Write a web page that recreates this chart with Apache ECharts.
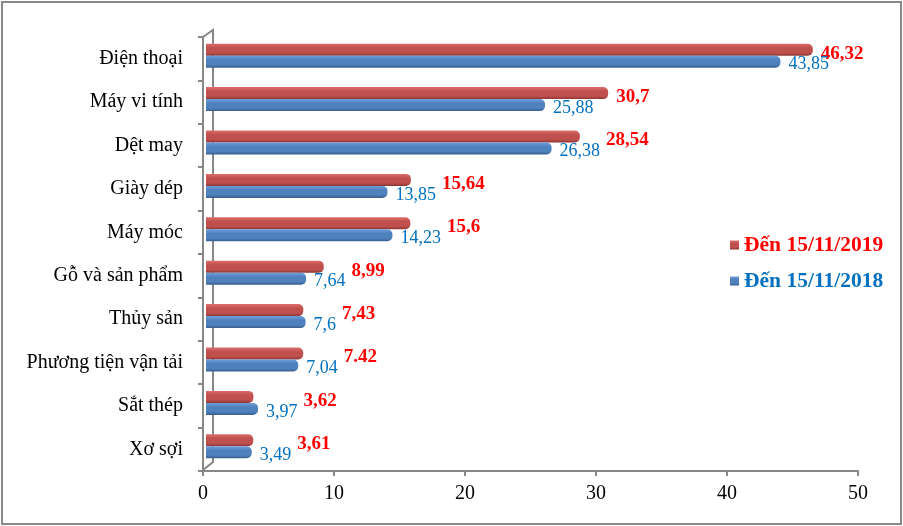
<!DOCTYPE html>
<html><head><meta charset="utf-8">
<script src="https://cdn.jsdelivr.net/npm/echarts@6/dist/echarts.min.js"></script>
<style>html,body{margin:0;padding:0;background:#fff}#c{width:903px;height:526px}</style>
</head><body><div id="c"></div>
<script>
const categories = ['Điện thoại','Máy vi tính','Dệt may','Giày dép','Máy móc','Gỗ và sản phẩm','Thủy sản','Phương tiện vận tải','Sắt thép','Xơ sợi'];
const values2019 = [46.32, 30.7, 28.54, 15.64, 15.6, 8.99, 7.43, 7.42, 3.62, 3.61];
const values2018 = [43.85, 25.88, 26.38, 13.85, 14.23, 7.64, 7.6, 7.04, 3.97, 3.49];
const labels2019 = ['46,32','30,7','28,54','15,64','15,6','8,99','7,43','7.42','3,62','3,61'];
const labels2018 = ['43,85','25,88','26,38','13,85','14,23','7,64','7,6','7,04','3,97','3,49'];
const xTicks = [0, 10, 20, 30, 40, 50];
const seriesNames = ['Đến 15/11/2019', 'Đến 15/11/2018'];

const FONT = '"Liberation Serif","Times New Roman",serif';
const RED_TXT = '#ff0000', BLUE_TXT = '#0070c0';
const AX = '#878787';
const BLUE_FS = 18;

function grad(c1, c2, c3) {
  return new echarts.graphic.LinearGradient(0, 0, 0, 1, [
    {offset: 0, color: c1}, {offset: 0.35, color: c2}, {offset: 0.75, color: c2}, {offset: 1, color: c3}
  ]);
}

const chart = echarts.init(document.getElementById('c'), null, {renderer: 'canvas'});

const option = {
  animation: false,
  backgroundColor: '#fff',
  grid: [
    {left: 203, right: 45, top: 37, bottom: 55},
    {left: 206, right: 42, top: 34, bottom: 58}
  ],
  xAxis: [
    {gridIndex: 0, type: 'value', min: xTicks[0], max: xTicks[xTicks.length-1], interval: 10,
     axisLine: {show: true, lineStyle: {color: AX, width: 2}},
     axisTick: {show: true, length: 5, lineStyle: {color: AX, width: 2}},
     axisLabel: {fontFamily: FONT, fontSize: 20, color: '#000', margin: 13},
     splitLine: {show: false}},
    {gridIndex: 1, type: 'value', min: xTicks[0], max: xTicks[xTicks.length-1], show: false}
  ],
  yAxis: [
    {gridIndex: 0, type: 'category', data: categories, inverse: true,
     axisLine: {show: true, lineStyle: {color: AX, width: 2}},
     axisTick: {show: true, length: 5, lineStyle: {color: AX, width: 2}},
     axisLabel: {fontFamily: FONT, fontSize: 20, color: '#000', margin: 20}},
    {gridIndex: 1, type: 'category', data: categories, inverse: true, show: false}
  ],
  legend: {
    orient: 'vertical', left: 730, top: 234, itemGap: 14, padding: 0,
    itemWidth: 9, itemHeight: 9, icon: 'rect',
    data: [
      {name: seriesNames[0], textStyle: {color: RED_TXT}},
      {name: seriesNames[1], textStyle: {color: BLUE_TXT}}
    ],
    textStyle: {fontFamily: FONT, fontSize: 21.5, fontWeight: 'bold'}
  },
  graphic: [
    {type: 'rect', shape: {x: 2, y: 2, width: 899, height: 522}, style: {fill: 'none', stroke: '#898989', lineWidth: 2}, silent: true},
    {type: 'polyline', shape: {points: [[203, 37], [213, 30], [213, 462], [203, 470]]}, style: {fill: 'none', stroke: AX, lineWidth: 2}, silent: true, z: 0}
  ],
  series: [
    {name: seriesNames[0], type: 'bar', xAxisIndex: 1, yAxisIndex: 1,
     data: values2019, barWidth: 12, barGap: '0%', z: 3,
     itemStyle: {color: grad('#dc6d6a', '#c0504d', '#8a3735'), borderRadius: [0, 5, 5, 0]},
     label: {show: true, position: 'right', distance: 8, offset: [0, 4],
             formatter: p => labels2019[p.dataIndex],
             fontFamily: FONT, fontSize: 19, fontWeight: 'bold', color: RED_TXT}},
    {name: seriesNames[1], type: 'bar', xAxisIndex: 1, yAxisIndex: 1,
     data: values2018, barWidth: 12, barGap: '0%', z: 3,
     itemStyle: {color: grad('#6f9ddb', '#4f81bd', '#385d8a'), borderRadius: [0, 5, 5, 0]},
     label: {show: true, position: 'right', distance: 8, offset: [0, 3],
             formatter: p => labels2018[p.dataIndex],
             fontFamily: FONT, fontSize: BLUE_FS, color: BLUE_TXT}}
  ]
};
chart.setOption(option);

// Place red labels so they do not collide with the blue labels (as in the source).
const ctx = document.createElement('canvas').getContext('2d');
ctx.font = BLUE_FS + 'px ' + FONT;
const redData = values2019.map((v, i) => {
  const redEnd = chart.convertToPixel({xAxisIndex: 1}, v);
  const blueEnd = chart.convertToPixel({xAxisIndex: 1}, values2018[i]);
  const blueLabelEnd = blueEnd + 8 + ctx.measureText(labels2018[i]).width;
  const def = redEnd + 8;
  const target = def > blueLabelEnd - 12 ? def : blueLabelEnd + 6;
  return {value: v, label: {offset: [target - def, 4]}};
});
chart.setOption({series: [{name: seriesNames[0], data: redData}]});
</script></body></html>
